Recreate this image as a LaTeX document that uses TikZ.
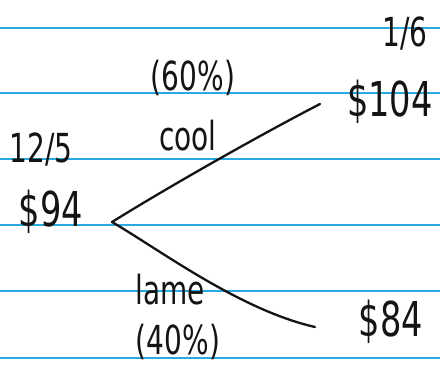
\documentclass[tikz,border=0pt]{standalone}
\usepackage{fontspec}
\setmainfont{DejaVu Sans}
\definecolor{ruleblue}{RGB}{40,170,225}
\definecolor{ink}{RGB}{20,20,20}
\begin{document}
\begin{tikzpicture}[x=1pt,y=-1pt,
  rule/.style={ruleblue,line width=1.6pt},
  hand/.style={ink,font=\fontsize{48}{48}\selectfont\addfontfeature{FakeStretch=0.7}, inner sep=0pt},
  small/.style={ink,font=\fontsize{40}{40}\selectfont\addfontfeature{FakeStretch=0.7}, inner sep=0pt},
  branch/.style={ink,line width=2.3pt,line cap=round}]
\useasboundingbox[fill=white] (0,0) rectangle (440,374);
\foreach \y in {28,93,159,225,291,358}
  \draw[rule] (0,\y) -- (440,\y);
\node[small] (d1) at (41,150) {12/5};
\node[small] (d2) at (405,34) {1/6};
\node[hand] (p0) at (51,212) {\$94};
\node[hand] (pu) at (390,102) {\$104};
\node[hand] (pd) at (391,322) {\$84};
\node[small] (cool) at (188,136) {cool};
\node[small] (pc) at (193,78) {(60\%)};
\node[small] (lame) at (170,290) {lame};
\node[small] (pl) at (178,342) {(40\%)};
\coordinate (v) at (112,222);
\coordinate (u) at (320,104);
\coordinate (l) at (315,327);
\draw[branch] (v) .. controls (170,186) and (260,135) .. (u);
\draw[branch] (v) .. controls (160,250) and (240,310) .. (l);
\end{tikzpicture}
\end{document}
